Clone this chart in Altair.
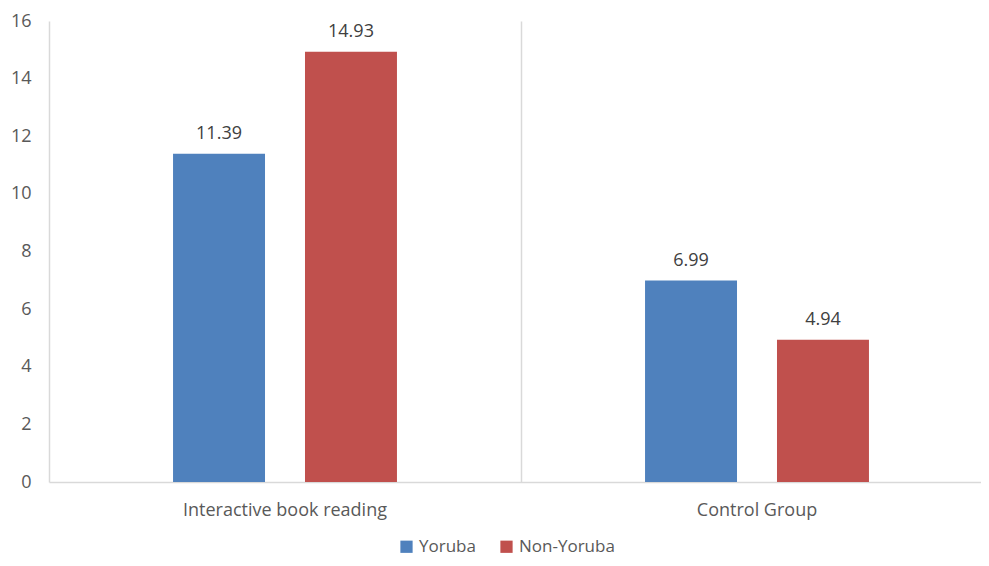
import altair as alt
import pandas as pd

categories = ["Interactive book reading", "Interactive book reading", "Control Group", "Control Group"]
groups = ["Yoruba", "Non-Yoruba", "Yoruba", "Non-Yoruba"]
values = [11.39, 14.93, 6.99, 4.94]
cat_order = ["Interactive book reading", "Control Group"]
group_order = ["Yoruba", "Non-Yoruba"]
colors = ["#4F81BD", "#C0504D"]

df = pd.DataFrame({"category": categories, "group": groups, "value": values})
df["label"] = df["value"].map(lambda v: f"{v:.2f}")

FONT = "Open Sans"

x = alt.X("category:N", sort=cat_order, title=None,
          scale=alt.Scale(paddingInner=0, paddingOuter=0, range=[0, 944]),
          axis=alt.Axis(labelAngle=0, labelFont=FONT, labelFontSize=18, labelColor="#595959",
                        labelPadding=19, labelLimit=0, ticks=False, domainColor="#d9d9d9",
                        domainWidth=1.5, grid=True, gridColor="#d9d9d9", gridWidth=1.5,
                        bandPosition=0))
xo = alt.XOffset("group:N", sort=group_order,
                 scale=alt.Scale(paddingInner=0.303, paddingOuter=0.94))
y = alt.Y("value:Q", title=None,
          scale=alt.Scale(domain=[0, 16], nice=False),
          axis=alt.Axis(values=list(range(0, 17, 2)), grid=False, domain=False, ticks=False,
                        labelFont=FONT, labelFontSize=18, labelColor="#595959", labelPadding=18))

base = alt.Chart(df)
bars = base.mark_bar().encode(
    x=x, xOffset=xo, y=y,
    color=alt.Color("group:N", sort=group_order,
                    scale=alt.Scale(domain=group_order, range=colors),
                    legend=alt.Legend(title=None, orient="none", legendX=349, legendY=517,
                                      direction="horizontal", symbolType="square", symbolSize=150,
                                      labelFont=FONT, labelFontSize=17, labelColor="#595959",
                                      columnPadding=22, symbolStrokeWidth=0, labelOffset=4)),
)
text = base.mark_text(dy=-20, font=FONT, fontSize=18, color="#404040").encode(
    x=alt.X("category:N", sort=cat_order), xOffset=alt.XOffset("group:N", sort=group_order),
    y="value:Q", text="label:N")

chart = alt.layer(bars, text).properties(
    width=932, height=461,
    autosize=alt.AutoSizeParams(type="none"),
    padding={"left": 41, "top": 13, "right": 0, "bottom": 75},
).configure_view(stroke=None)

chart.save("out.html", embed_options={"renderer": "svg", "actions": False})
